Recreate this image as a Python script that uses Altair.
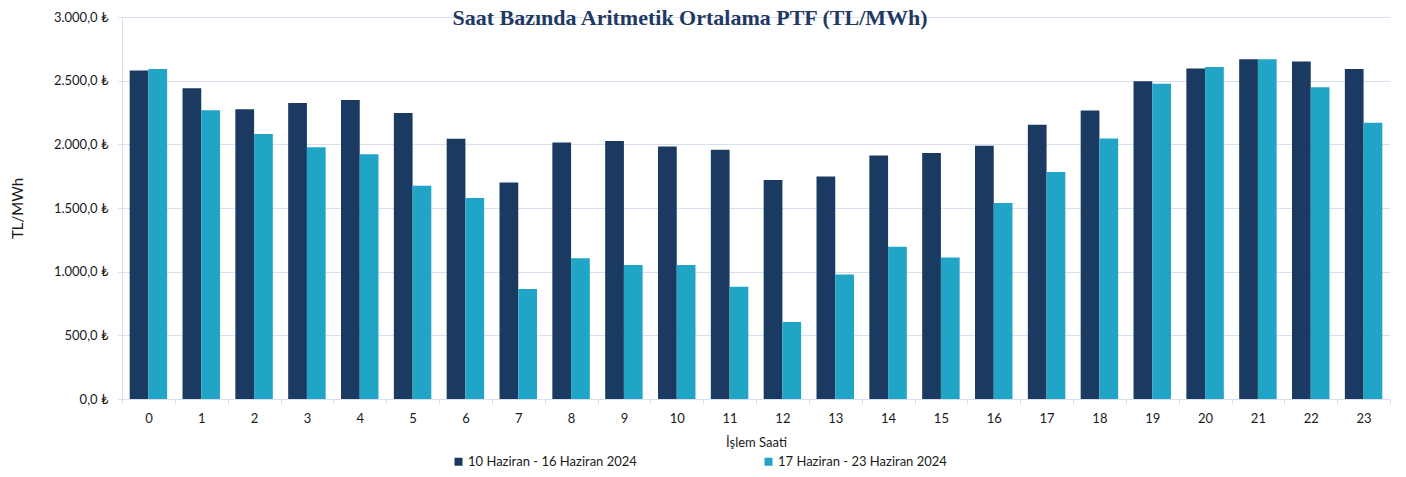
import altair as alt
import pandas as pd

hours = [str(h) for h in range(24)]
series_names = ["10 Haziran - 16 Haziran 2024", "17 Haziran - 23 Haziran 2024"]
week1 = [2579, 2441, 2276, 2325, 2349, 2247, 2043, 1700, 2014, 2027, 1983, 1957,
         1719, 1748, 1912, 1931, 1988, 2153, 2265, 2496, 2595, 2668, 2650, 2592]
week2 = [2592, 2268, 2082, 1978, 1923, 1675, 1578, 864, 1105, 1052, 1052, 882,
         605, 977, 1196, 1112, 1539, 1782, 2046, 2475, 2608, 2668, 2449, 2169]
y_ticks = [0, 500, 1000, 1500, 2000, 2500, 3000]
colors = ["#1B3A61", "#21A5C6"]

rows = []
for h, a, b in zip(hours, week1, week2):
    rows.append({"saat": h, "seri": series_names[0], "deger": a})
    rows.append({"saat": h, "seri": series_names[1], "deger": b})
df = pd.DataFrame(rows)

label_expr = ("replace(replace(replace(format(datum.value, ',.1f'), ',', '_'), '.', ','), '_', '.') + ' ₺'")

grid_col = "#D6E0F0"
font = "Lato"
txt = "#1a1a1a"

chart = alt.Chart(df).mark_bar().encode(
    x=alt.X("saat:N", sort=hours,
            scale=alt.Scale(paddingInner=0, paddingOuter=0),
            axis=alt.Axis(title="İşlem Saati", labelAngle=0, tickBand="extent",
                          tickSize=5, tickColor=grid_col, domainColor=grid_col,
                          labelPadding=8, labelFont=font, labelFontSize=13,
                          labelColor=txt, titleFont=font, titleFontSize=13,
                          titleFontWeight="normal", titleColor=txt,
                          titleY=43, titleBaseline="middle", grid=False)),
    xOffset=alt.XOffset("seri:N", sort=series_names,
                        scale=alt.Scale(paddingInner=0, paddingOuter=0.41)),
    y=alt.Y("deger:Q", scale=alt.Scale(domain=[0, 3000], nice=False),
            axis=alt.Axis(title="TL/MWh", values=y_ticks, labelExpr=label_expr,
                          grid=True, gridColor=grid_col, domainColor=grid_col,
                          tickColor=grid_col, tickSize=4, labelPadding=10,
                          labelFont=font, labelFontSize=13, labelColor=txt,
                          titleFont=font, titleFontSize=15, titleFontWeight="normal",
                          titleColor=txt, titleX=-105, titleBaseline="middle")),
    color=alt.Color("seri:N", scale=alt.Scale(domain=series_names, range=colors),
                    legend=alt.Legend(title=None, orient="none", legendX=330, legendY=438,
                                      direction="horizontal", columns=2,
                                      symbolType="square", symbolSize=64,
                                      symbolStrokeWidth=0, labelFont=font,
                                      labelFontSize=13, labelColor=txt, labelLimit=400,
                                      labelOffset=3, columnPadding=125, padding=0)),
).properties(
    width=1268,
    height=382,
    autosize=alt.AutoSizeParams(type="none"),
    padding={"left": 114, "top": 9, "right": 8, "bottom": 70},
    title=alt.TitleParams(text="Saat Bazında Aritmetik Ortalama PTF (TL/MWh)",
                          font="Liberation Serif", fontSize=22, fontWeight="bold",
                          color="#1F3864", anchor="middle", frame="group", dx=-66,
                          offset=-19),
).configure_view(stroke=None)

chart.save("out.html", embed_options={"renderer": "svg", "actions": False})
